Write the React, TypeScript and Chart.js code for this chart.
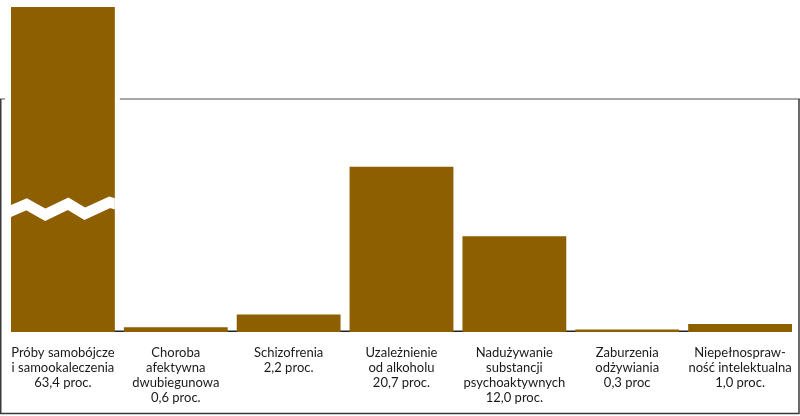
import React, { useEffect, useRef } from "react";
import { Chart, registerables } from "chart.js";

Chart.register(...registerables);

const categoryLines: string[][] = [
  ["Próby samobójcze", "i samookaleczenia"],
  ["Choroba", "afektywna", "dwubiegunowa"],
  ["Schizofrenia"],
  ["Uzależnienie", "od alkoholu"],
  ["Nadużywanie", "substancji", "psychoaktywnych"],
  ["Zaburzenia", "odżywiania"],
  ["Niepełnospraw-", "ność intelektualna"],
];
const values: number[] = [63.4, 0.6, 2.2, 20.7, 12.0, 0.3, 1.0];
const valueLabels: string[] = [
  "63,4 proc.",
  "0,6 proc.",
  "2,2 proc.",
  "20,7 proc.",
  "12,0 proc.",
  "0,3 proc",
  "1,0 proc.",
];
const yMax = 40.7;

const BAR_COLOR = "#8E5F00";
const FRAME_TOP = 99;
const FRAME_BOTTOM = 413.5;

const framePlugin = {
  id: "framePlugin",
  beforeDatasetsDraw(chart: any) {
    const ctx = chart.ctx as CanvasRenderingContext2D;
    const meta = chart.getDatasetMeta(0);
    const first = meta.data[0] as any;
    const last = meta.data[meta.data.length - 1] as any;
    const firstLeft = first.x - first.width / 2;
    const firstRight = first.x + first.width / 2;
    const lastRight = last.x + last.width / 2;
    const W = chart.width;
    ctx.save();
    // top line, broken around the first bar
    ctx.strokeStyle = "#8a8a8a";
    ctx.lineWidth = 1.6;
    ctx.beginPath();
    ctx.moveTo(0, FRAME_TOP);
    ctx.lineTo(firstLeft - 6, FRAME_TOP);
    ctx.moveTo(firstRight + 5, FRAME_TOP);
    ctx.lineTo(W, FRAME_TOP);
    ctx.stroke();
    // left, bottom, right
    ctx.strokeStyle = "#3a3a3a";
    ctx.lineWidth = 1.5;
    ctx.beginPath();
    ctx.moveTo(0.75, FRAME_TOP);
    ctx.lineTo(0.75, FRAME_BOTTOM);
    ctx.lineTo(W - 1, FRAME_BOTTOM);
    ctx.lineTo(W - 1, FRAME_TOP);
    ctx.stroke();
    // baseline between bars
    const base = chart.scales.y.getPixelForValue(0);
    ctx.strokeStyle = "#222222";
    ctx.lineWidth = 1.5;
    ctx.beginPath();
    ctx.moveTo(firstLeft, base - 0.75);
    ctx.lineTo(lastRight, base - 0.75);
    ctx.stroke();
    ctx.restore();
  },
  afterDatasetsDraw(chart: any) {
    const ctx = chart.ctx as CanvasRenderingContext2D;
    const meta = chart.getDatasetMeta(0);
    const bar = meta.data[0] as any;
    const left = bar.x - bar.width / 2;
    const w = bar.width;
    const area = chart.chartArea;
    const cy = area.top + (area.bottom - area.top) * 0.621;
    const pts: [number, number][] = [
      [-0.05, 4.5],
      [0.15, -4.5],
      [0.33, 6],
      [0.55, -5],
      [0.71, 5],
      [0.95, -6.5],
      [1.1, -2],
    ];
    ctx.save();
    ctx.beginPath();
    ctx.rect(left, area.top, w, area.bottom - area.top);
    ctx.clip();
    ctx.strokeStyle = "#ffffff";
    ctx.lineWidth = 11;
    ctx.lineJoin = "miter";
    ctx.beginPath();
    pts.forEach(([fx, dy], i) => {
      const px = left + fx * w;
      const py = cy + dy;
      if (i === 0) ctx.moveTo(px, py);
      else ctx.lineTo(px, py);
    });
    ctx.stroke();
    ctx.restore();
  },
};

export default function App() {
  const canvasRef = useRef<HTMLCanvasElement | null>(null);

  useEffect(() => {
    document.body.style.margin = "0";
    const canvas = canvasRef.current;
    if (!canvas) return;
    const labels = categoryLines.map((lines, i) => [...lines, valueLabels[i]]);
    const chart = new Chart(canvas, {
      type: "bar",
      data: {
        labels,
        datasets: [
          {
            data: values,
            backgroundColor: BAR_COLOR,
            borderWidth: 0,
            barPercentage: 0.92,
            categoryPercentage: 1,
          },
        ],
      },
      options: {
        animation: false,
        responsive: false,
        devicePixelRatio: 1,
        layout: { padding: { top: 7, left: 6.5, right: 3.5, bottom: 0 } },
        plugins: {
          legend: { display: false },
          tooltip: { enabled: false },
        },
        scales: {
          x: {
            grid: { display: false, drawTicks: false },
            border: { display: false },
            ticks: {
              autoSkip: false,
              maxRotation: 0,
              minRotation: 0,
              padding: 13,
              color: "#1a1a1a",
              font: { family: "Lato", size: 13, lineHeight: "15px" },
            },
            afterFit: (scale: any) => {
              scale.height = 84;
              scale.paddingLeft = 0;
              scale.paddingRight = 0;
            },
          },
          y: {
            display: false,
            min: 0,
            max: yMax,
          },
        },
      },
      plugins: [framePlugin],
    });
    return () => chart.destroy();
  }, []);

  return (
    <div style={{ width: 800, height: 416, background: "#ffffff" }}>
      <canvas ref={canvasRef} width={800} height={416} />
    </div>
  );
}
